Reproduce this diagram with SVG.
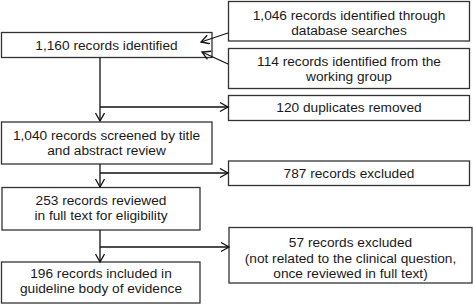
<svg xmlns="http://www.w3.org/2000/svg" width="473" height="304" viewBox="0 0 473 304">
<style>
.box{fill:#fff;stroke:#333;stroke-width:1.3}
text{font-family:"Liberation Sans",Arial,Helvetica,sans-serif;font-size:13.7px;fill:#1a1a1a;text-anchor:middle}
.c{fill:none;stroke:#111;stroke-width:1.3}
</style>
<defs>
<marker id="ah" markerUnits="userSpaceOnUse" markerWidth="12" markerHeight="12" refX="9" refY="5" orient="auto">
<path d="M1,0.5 L9,5 L1,9.5" fill="none" stroke="#111" stroke-width="1.3"/>
</marker>
</defs>
<rect width="473" height="304" fill="#fff"/>
<g id="n1160"><rect class="box" x="1.5" y="32.5" width="210.5" height="25"/><text x="106.5" y="49.5">1,160 records identified</text></g>
<g id="n1046"><rect class="box" x="228.5" y="1.5" width="241" height="39.5"/><text x="349" y="20">1,046 records identified through</text><text x="349" y="35">database searches</text></g>
<g id="n114"><rect class="box" x="228.5" y="48.5" width="241" height="40"/><text x="349" y="66">114 records identified from the</text><text x="349" y="81">working group</text></g>
<g id="n120"><rect class="box" x="228.5" y="95.5" width="241" height="25"/><text x="349" y="112">120 duplicates removed</text></g>
<g id="n1040"><rect class="box" x="1.5" y="122" width="210.5" height="42"/><text x="106.5" y="139.5">1,040 records screened by title</text><text x="106.5" y="154.5">and abstract review</text></g>
<g id="n787"><rect class="box" x="228.5" y="161" width="241" height="24.5"/><text x="349" y="177.5">787 records excluded</text></g>
<g id="n253"><rect class="box" x="2" y="187.5" width="198" height="42.5"/><text x="101" y="205">253 records reviewed</text><text x="101" y="220">in full text for eligibility</text></g>
<g id="n57"><rect class="box" x="229" y="227.5" width="243" height="55.5"/><text x="350.5" y="247">57 records excluded</text><text x="350.5" y="262.5">(not related to the clinical question,</text><text x="350.5" y="278">once reviewed in full text)</text></g>
<g id="n196"><rect class="box" x="1.5" y="262" width="198.5" height="41"/><text x="101" y="278">196 records included in</text><text x="101" y="293">guideline body of evidence</text></g>
<g id="connectors">
<line class="c" x1="228" y1="33" x2="201" y2="42" marker-end="url(#ah)"/>
<line class="c" x1="228" y1="64" x2="202" y2="52" marker-end="url(#ah)"/>
<line class="c" x1="100" y1="57.5" x2="100" y2="121" marker-end="url(#ah)"/>
<line class="c" x1="100" y1="107" x2="228" y2="107" marker-end="url(#ah)"/>
<line class="c" x1="100" y1="164" x2="100" y2="187" marker-end="url(#ah)"/>
<line class="c" x1="100" y1="173" x2="228" y2="173" marker-end="url(#ah)"/>
<line class="c" x1="100" y1="230" x2="100" y2="262" marker-end="url(#ah)"/>
<line class="c" x1="100" y1="247" x2="229" y2="247" marker-end="url(#ah)"/>
</g>
</svg>
